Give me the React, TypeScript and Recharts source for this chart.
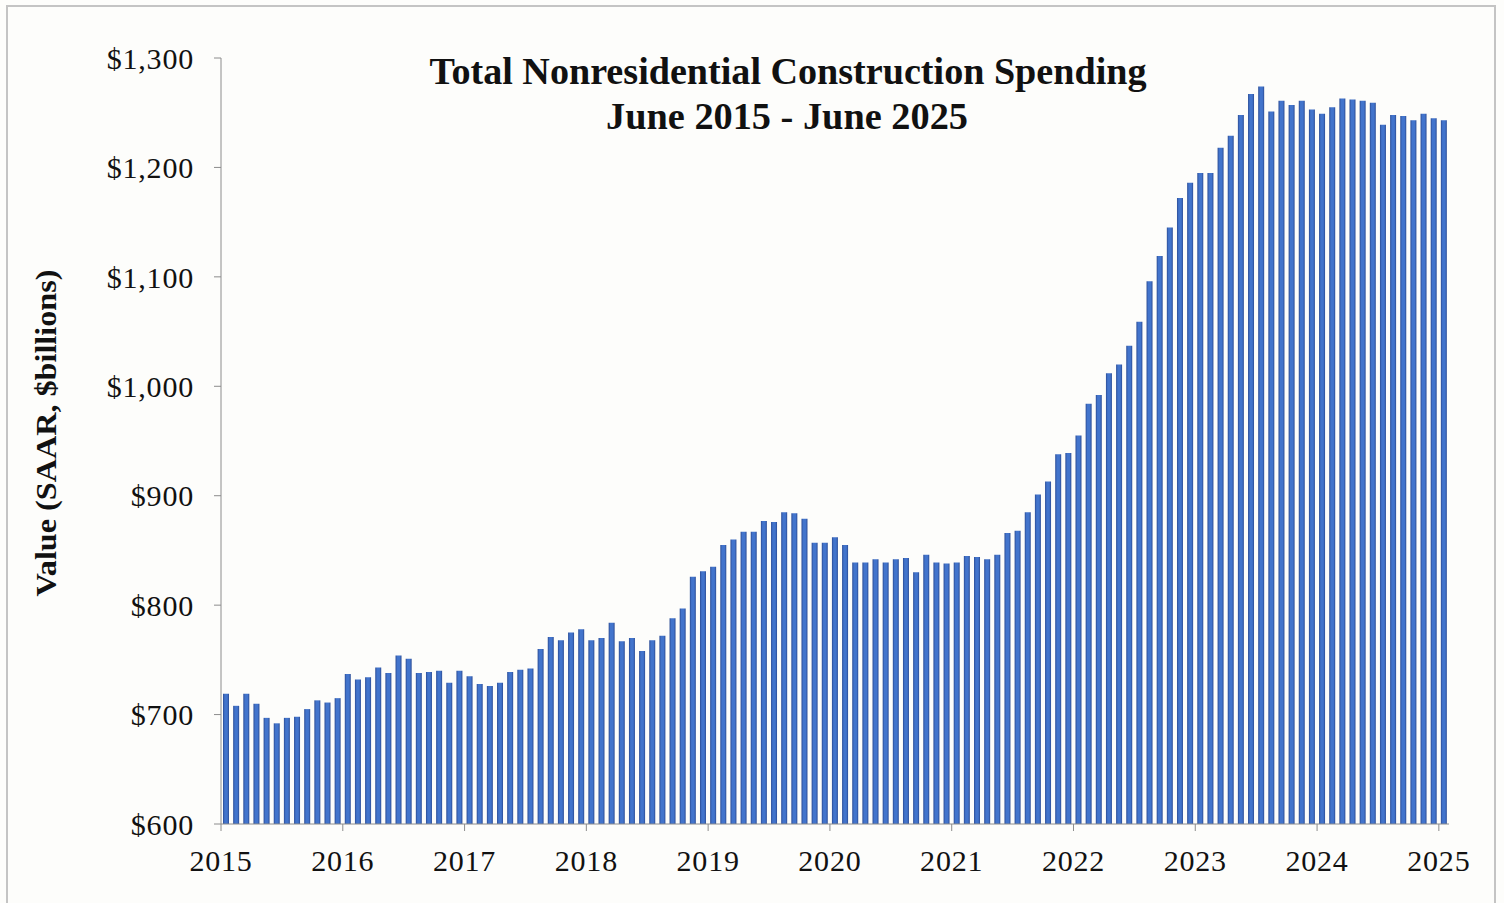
import { BarChart, Bar, XAxis, YAxis } from 'recharts';

// monthly values, $ billions SAAR (June 2015 - June 2025)
const spending2015 = [719, 708, 719, 710, 697, 692, 697];
const spending2016 = [698, 705, 713, 711, 715, 737, 732, 734, 743, 738, 754, 751];
const spending2017 = [738, 739, 740, 729, 740, 735, 728, 726, 729, 739, 741, 742];
const spending2018 = [760, 771, 768, 775, 778, 768, 770, 784, 767, 770, 758, 768];
const spending2019 = [772, 788, 797, 826, 831, 835, 855, 860, 867, 867, 877, 876];
const spending2020 = [885, 884, 879, 857, 857, 862, 855, 839, 839, 842, 839, 842];
const spending2021 = [843, 830, 846, 839, 838, 839, 845, 844, 842, 846, 866, 868];
const spending2022 = [885, 901, 913, 938, 939, 955, 984, 992, 1012, 1020, 1037, 1059];
const spending2023 = [1096, 1119, 1145, 1172, 1186, 1195, 1195, 1218, 1229, 1248, 1267, 1274];
const spending2024 = [1251, 1261, 1257, 1261, 1253, 1249, 1255, 1263, 1262, 1261, 1259, 1239];
const spending2025 = [1248, 1247, 1243, 1249, 1245, 1243];

const yearLabels = ['2015', '2016', '2017', '2018', '2019', '2020', '2021', '2022', '2023', '2024', '2025'];
const yTicks = [600, 700, 800, 900, 1000, 1100, 1200, 1300];
const monthNames = ['Jan', 'Feb', 'Mar', 'Apr', 'May', 'Jun', 'Jul', 'Aug', 'Sep', 'Oct', 'Nov', 'Dec'];

const values = [
  ...spending2015, ...spending2016, ...spending2017, ...spending2018,
  ...spending2019, ...spending2020, ...spending2021, ...spending2022,
  ...spending2023, ...spending2024, ...spending2025,
];

// first bar is June 2015 (month index 5)
const data = values.map((value, i) => ({
  pos: i + 0.5,
  month: `${monthNames[(5 + i) % 12]} ${2015 + Math.floor((5 + i) / 12)}`,
  value,
}));

const xTicks = yearLabels.map((_, i) => i * 12);
const serif = '"Liberation Serif", "Times New Roman", serif';
const axisGrey = '#8c8c8c';
const tickStyle = { fill: '#111', fontFamily: serif, fontSize: 30, letterSpacing: 0.8 };

const fmtDollar = (v: number) => '$' + v.toLocaleString('en-US');

export default function App() {
  return (
    <div style={{ position: 'relative', width: 1504, height: 903, overflow: 'hidden', background: '#fdfdfb' }}>
      <style>{'body{margin:0;background:#fdfdfb}'}</style>
      <div
        style={{
          position: 'absolute', left: 6, top: 5, width: 1490, height: 1000,
          border: '2px solid #c4c4c4', boxSizing: 'border-box',
        }}
      />
      <BarChart
        width={1504}
        height={903}
        data={data}
        margin={{ top: 58, right: 55, bottom: 29, left: 161 }}
      >
        <defs>
          <linearGradient id="barFill" x1="0" y1="0" x2="1" y2="0">
            <stop offset="0%" stopColor="#2b4c95" />
            <stop offset="30%" stopColor="#4274cc" />
            <stop offset="70%" stopColor="#4274cc" />
            <stop offset="100%" stopColor="#2b4c95" />
          </linearGradient>
        </defs>
        <XAxis
          type="number"
          dataKey="pos"
          domain={[0, 121]}
          ticks={xTicks}
          interval={0}
          tickFormatter={(t: number) => yearLabels[Math.round(t / 12)]}
          height={50}
          stroke={axisGrey}
          tickSize={7}
          tickMargin={19}
          tick={tickStyle}
        />
        <YAxis
          type="number"
          domain={[600, 1300]}
          ticks={yTicks}
          interval={0}
          allowDataOverflow
          width={60}
          stroke={axisGrey}
          tickSize={7}
          tickMargin={20}
          tickFormatter={fmtDollar}
          tick={tickStyle}
        />
        <Bar dataKey="value" barSize={6} fill="url(#barFill)" isAnimationActive={false} />
      </BarChart>
      <svg
        width={1504}
        height={903}
        style={{ position: 'absolute', left: 0, top: 0, pointerEvents: 'none' }}
      >
        <text
          x={788}
          y={84}
          textAnchor="middle"
          fontFamily={serif}
          fontWeight="bold"
          fontSize={37}
          fill="#111"
          textLength={717}
          lengthAdjust="spacingAndGlyphs"
        >
          Total Nonresidential Construction Spending
        </text>
        <text
          x={787}
          y={129}
          textAnchor="middle"
          fontFamily={serif}
          fontWeight="bold"
          fontSize={37}
          fill="#111"
          textLength={362}
          lengthAdjust="spacingAndGlyphs"
        >
          June 2015 - June 2025
        </text>
        <text
          x={56}
          y={433}
          textAnchor="middle"
          fontFamily={serif}
          fontWeight="bold"
          fontSize={30}
          fill="#111"
          textLength={327}
          lengthAdjust="spacingAndGlyphs"
          transform="rotate(-90, 56, 433)"
        >
          Value (SAAR, $billions)
        </text>
      </svg>
    </div>
  );
}
